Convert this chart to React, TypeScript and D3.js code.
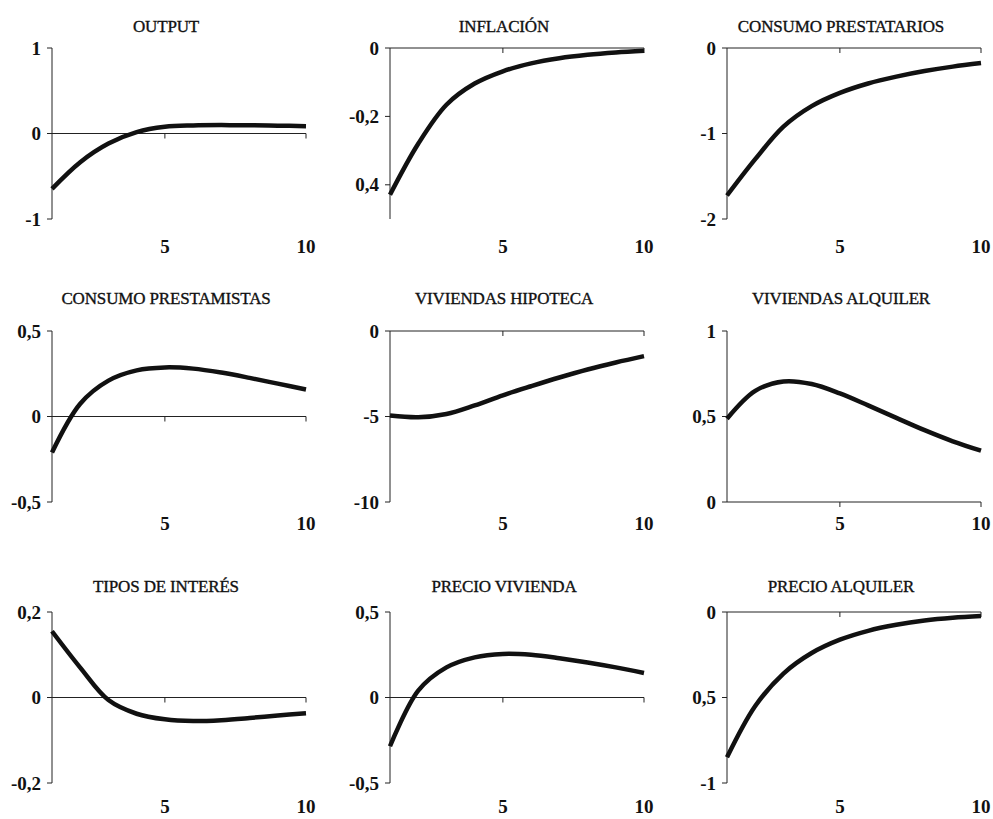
import { useEffect, useRef } from "react";
import * as d3 from "d3";

// periods 1..10
const periods = [1, 2, 3, 4, 5, 6, 7, 8, 9, 10];
const xTicks = [5, 10];

const output = [-0.647, -0.335, -0.117, 0.016, 0.078, 0.094, 0.098, 0.096, 0.092, 0.086];
const inflacion = [-0.429, -0.28, -0.166, -0.104, -0.068, -0.045, -0.03, -0.02, -0.013, -0.008];
const consumoPrestatarios = [-1.725, -1.3, -0.92, -0.68, -0.525, -0.415, -0.335, -0.27, -0.218, -0.176];
const consumoPrestamistas = [-0.21, 0.075, 0.21, 0.27, 0.287, 0.28, 0.257, 0.226, 0.192, 0.158];
const viviendasHipoteca = [-4.94, -5.04, -4.85, -4.35, -3.76, -3.23, -2.72, -2.25, -1.84, -1.47];
const viviendasAlquiler = [0.487, 0.65, 0.705, 0.69, 0.635, 0.565, 0.492, 0.42, 0.355, 0.3];
const tiposInteres = [0.155, 0.07, -0.006, -0.038, -0.051, -0.055, -0.053, -0.048, -0.042, -0.037];
const precioVivienda = [-0.285, 0.04, 0.176, 0.235, 0.255, 0.25, 0.23, 0.205, 0.176, 0.143];
const precioAlquiler = [-0.85, -0.55, -0.36, -0.24, -0.162, -0.11, -0.075, -0.05, -0.034, -0.024];

const titles = [
  "OUTPUT", "INFLACIÓN", "CONSUMO PRESTATARIOS",
  "CONSUMO PRESTAMISTAS", "VIVIENDAS HIPOTECA", "VIVIENDAS ALQUILER",
  "TIPOS DE INTERÉS", "PRECIO VIVIENDA", "PRECIO ALQUILER",
];
const series = [
  output, inflacion, consumoPrestatarios,
  consumoPrestamistas, viviendasHipoteca, viviendasAlquiler,
  tiposInteres, precioVivienda, precioAlquiler,
];
const domains: [number, number][] = [
  [-1, 1], [-0.5, 0], [-2, 0],
  [-0.5, 0.5], [-10, 0], [0, 1],
  [-0.2, 0.2], [-0.5, 0.5], [-1, 0],
];
const yTickValues = [
  [1, 0, -1], [0, -0.2, -0.4], [0, -1, -2],
  [0.5, 0, -0.5], [0, -5, -10], [1, 0.5, 0],
  [0.2, 0, -0.2], [0.5, 0, -0.5], [0, -0.5, -1],
];
// tick labels as printed in the source (including its missing minus signs)
const yTickLabels = [
  ["1", "0", "-1"], ["0", "-0,2", "0,4"], ["0", "-1", "-2"],
  ["0,5", "0", "-0,5"], ["0", "-5", "-10"], ["1", "0,5", "0"],
  ["0,2", "0", "-0,2"], ["0,5", "0", "-0,5"], ["0", "0,5", "-1"],
];

const FONT = "'Liberation Serif', 'Times New Roman', serif";

const App = () => {
  const svgRef = useRef<SVGSVGElement>(null);
  const width = 993;
  const height = 819;

  useEffect(() => {
    const svg = d3.select(svgRef.current);
    svg.selectAll("*").remove();

    const colLeft = [52, 390, 727];
    const plotW = 254;
    const rowTop = [48, 331, 612];
    const plotH = 171;
    const titleY = [32, 304, 592];
    const xLabelY = [253, 530, 813];

    series.forEach((values, i) => {
      const row = Math.floor(i / 3);
      const col = i % 3;
      const g = svg
        .append("g")
        .attr("transform", `translate(${colLeft[col]},${rowTop[row]})`);

      const x = d3.scaleLinear().domain([1, 10]).range([0, plotW]);
      const y = d3.scaleLinear().domain(domains[i]).range([plotH, 0]);

      // title
      g.append("text")
        .attr("x", 114)
        .attr("y", titleY[row] - rowTop[row])
        .attr("text-anchor", "middle")
        .attr("font-family", FONT)
        .attr("font-size", "17px")
        .attr("letter-spacing", "-0.15px")
        .attr("fill", "#111")
        .attr("stroke", "#111")
        .attr("stroke-width", 0.35)
        .text(titles[i]);

      // y axis
      g.append("line")
        .attr("x1", 0).attr("x2", 0)
        .attr("y1", 0).attr("y2", plotH)
        .attr("stroke", "#222").attr("stroke-width", 1);

      yTickValues[i].forEach((v, k) => {
        g.append("line")
          .attr("x1", -5).attr("x2", 0)
          .attr("y1", y(v)).attr("y2", y(v))
          .attr("stroke", "#222");
        g.append("text")
          .attr("x", -11)
          .attr("y", y(v))
          .attr("dy", "0.35em")
          .attr("text-anchor", "end")
          .attr("font-family", FONT)
          .attr("font-weight", "bold")
          .attr("font-size", "19px")
          .attr("fill", "#111")
          .text(yTickLabels[i][k]);
      });

      // x axis along zero
      const y0 = y(0);
      g.append("line")
        .attr("x1", 0).attr("x2", plotW)
        .attr("y1", y0).attr("y2", y0)
        .attr("stroke", "#222");
      xTicks.forEach((t) => {
        g.append("line")
          .attr("x1", x(t)).attr("x2", x(t))
          .attr("y1", y0).attr("y2", y0 + 5)
          .attr("stroke", "#222");
        g.append("text")
          .attr("x", x(t))
          .attr("y", xLabelY[row] - rowTop[row])
          .attr("text-anchor", "middle")
          .attr("font-family", FONT)
          .attr("font-weight", "bold")
          .attr("font-size", "19px")
          .attr("fill", "#111")
          .text(t);
      });

      // response line
      const line = d3
        .line<number>()
        .x((_, k) => x(periods[k]))
        .y((d) => y(d))
        .curve(d3.curveCatmullRom.alpha(0.5));

      g.append("path")
        .datum(values)
        .attr("d", line)
        .attr("fill", "none")
        .attr("stroke", "#111")
        .attr("stroke-width", 4.5)
        .attr("stroke-linejoin", "round");
    });
  }, []);

  return (
    <svg
      ref={svgRef}
      width={width}
      height={height}
      style={{ position: "absolute", left: 0, top: 0, background: "#fff" }}
    />
  );
};

export default App;
